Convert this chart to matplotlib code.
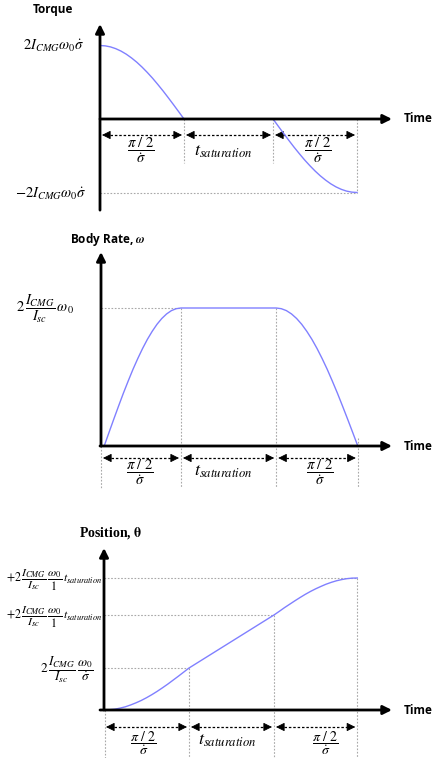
import numpy as np
import matplotlib
matplotlib.use("Agg")
import matplotlib.pyplot as plt

plt.rcParams["mathtext.fontset"] = "stix"

W, H = 448, 758

# Sample grid over one transition phase (fraction of the phase duration)
phase_frac = [i / 16 for i in range(17)]

# Torque profile (normalised to 2 I_CMG w0 sigma_dot)
torque_breaks = [0.0, 1.0, 2.06, 3.06]
torque_decay = [1.0, 0.995, 0.981, 0.957, 0.924, 0.882, 0.831, 0.773, 0.707,
                0.634, 0.556, 0.471, 0.383, 0.290, 0.195, 0.098, 0.0]
torque_coast = [0.0, 0.0]
torque_reverse = [0.0, -0.098, -0.195, -0.290, -0.383, -0.471, -0.556, -0.634,
                  -0.707, -0.773, -0.831, -0.882, -0.924, -0.957, -0.981, -0.995, -1.0]

# Body rate profile (normalised to 2 I_CMG/I_sc w0)
rate_breaks = [0.04, 1.0, 2.19, 3.21]
rate_rise = [0.0, 0.098, 0.195, 0.290, 0.383, 0.471, 0.556, 0.634, 0.707,
             0.773, 0.831, 0.882, 0.924, 0.957, 0.981, 0.995, 1.0]
rate_coast = [1.0, 1.0]
rate_fall = [1.0, 0.995, 0.981, 0.957, 0.924, 0.882, 0.831, 0.773, 0.707,
             0.634, 0.556, 0.471, 0.383, 0.290, 0.195, 0.098, 0.0]

# Position profile (normalised to final angle)
pos_breaks = [0.0, 1.0, 2.0, 2.98]
pos_accel = [0.0, 0.002, 0.006, 0.014, 0.024, 0.038, 0.054, 0.072, 0.093,
             0.116, 0.141, 0.168, 0.196, 0.226, 0.256, 0.287, 0.318]
pos_coast = [0.318, 0.72]
pos_decel = [0.72, 0.747, 0.775, 0.801, 0.827, 0.852, 0.876, 0.898, 0.918,
             0.936, 0.953, 0.967, 0.979, 0.988, 0.995, 0.999, 1.0]

CURVE = "#8080ff"
GUIDE = "#a8a8a8"

fig = plt.figure(figsize=(W / 100, H / 100), dpi=100)
fig.patch.set_facecolor("white")


def make_panel(ox, oy, sx, sy, top, bot):
    ax = fig.add_axes([0, 1 - bot / H, 1, (bot - top) / H])
    ax.set_xlim(-ox / sx, (W - ox) / sx)
    ax.set_ylim((oy - bot) / sy, (oy - top) / sy)
    ax.axis("off")
    return ax


def profile(breaks, first, coast, last):
    b = breaks
    t1 = [b[0] + f * (b[1] - b[0]) for f in phase_frac]
    t2 = [b[1], b[2]]
    t3 = [b[2] + f * (b[3] - b[2]) for f in phase_frac]
    return np.array(t1 + t2 + t3), np.array(list(first) + list(coast) + list(last))


def axes_arrows(ax, x0, xtip, ybot, ytip):
    kw = dict(arrowstyle="-|>", lw=2, color="black", mutation_scale=13,
              shrinkA=0, shrinkB=0)
    ax.annotate("", xy=(xtip, 0), xytext=(x0, 0), arrowprops=kw, zorder=5)
    ax.annotate("", xy=(0, ytip), xytext=(0, ybot), arrowprops=kw, zorder=5)


def guide(ax, xs, ys):
    ax.plot(xs, ys, color=GUIDE, lw=0.8, ls=(0, (1.5, 1.5)), zorder=1)


def dim_arrows(ax, breaks, y, gap, head):
    spans = [(breaks[0], breaks[1]), (breaks[1], breaks[2]), (breaks[2], breaks[3])]
    for a, b in spans:
        a2, b2 = a + gap, b - gap
        ax.plot([a2 + head, b2 - head], [y, y], color="black", lw=0.9,
                ls=(0, (2, 1.5)), zorder=3)
        hk = dict(arrowstyle="-|>", lw=0.6, color="black", mutation_scale=13,
                  shrinkA=0, shrinkB=0)
        ax.annotate("", xy=(a2, y), xytext=(a2 + head, y), arrowprops=hk)
        ax.annotate("", xy=(b2, y), xytext=(b2 - head, y), arrowprops=hk)


def ftext(x, y, s, **kw):
    fig.text(x / W, 1 - y / H, s, **kw)


SANS = "Open Sans"
FRAC = r"$\dfrac{\pi\ /\ 2}{\dot{\sigma}}$"
TSAT = r"$t_{saturation}$"
POS_HI = r"$+2\,\dfrac{I_{CMG}}{I_{sc}}\,\dfrac{\omega_0}{1}\,t_{saturation}$"

# ---------------- Torque ----------------
ax1 = make_panel(100, 119, 84, 73.5, 0, 215)
axes_arrows(ax1, 0, (392 - 100) / 84, -1.24, (119 - 24) / 73.5)
t, v = profile(torque_breaks, torque_decay, torque_coast, torque_reverse)
ax1.plot(t, v, color=CURVE, lw=1, zorder=4)
guide(ax1, [0, torque_breaks[3]], [-1, -1])
guide(ax1, [torque_breaks[3]] * 2, [0, -1])
guide(ax1, [torque_breaks[1]] * 2, [0, -0.6])
guide(ax1, [torque_breaks[2]] * 2, [0, -0.6])
dim_arrows(ax1, torque_breaks, -16 / 73.5, 2 / 84, 8 / 84)

ftext(53, 9, "Torque", ha="center", va="center", fontsize=8.5,
      fontweight="bold", family=SANS)
ftext(84, 46, r"$2I_{CMG}\omega_0\dot{\sigma}$", ha="right", va="center", fontsize=10.5)
ftext(86, 194, r"$-2I_{CMG}\omega_0\dot{\sigma}$", ha="right", va="center", fontsize=10.5)
ftext(404, 119, "Time", ha="left", va="center", fontsize=8.5, fontweight="bold", family=SANS)
ftext(141, 151, FRAC, ha="center", va="center", fontsize=10.5)
ftext(223, 151, TSAT, ha="center", va="center", fontsize=13)
ftext(318, 151, FRAC, ha="center", va="center", fontsize=10.5)

# ---------------- Body rate ----------------
ax2 = make_panel(101, 446, 80, 138, 230, 495)
axes_arrows(ax2, -1 / 80, (392 - 101) / 80, 0, (446 - 252) / 138)
t, v = profile(rate_breaks, rate_rise, rate_coast, rate_fall)
ax2.plot(t, v, color=CURVE, lw=1, zorder=4)
rb = [0.0, rate_breaks[1], rate_breaks[2], rate_breaks[3]]
low = (446 - 488) / 138
guide(ax2, [0, rb[1]], [1, 1])
guide(ax2, [rb[0]] * 2, [0, low])
guide(ax2, [rb[1]] * 2, [1, low])
guide(ax2, [rb[2]] * 2, [1, low])
guide(ax2, [rb[3]] * 2, [0.06, low])
dim_arrows(ax2, rb, (446 - 458) / 138, 2 / 80, 8 / 80)

ftext(108, 240, r"Body Rate, $\boldsymbol{\omega}$", ha="center", va="center",
      fontsize=8.5, fontweight="bold", family=SANS)
ftext(74, 309, r"$2\,\dfrac{I_{CMG}}{I_{sc}}\,\omega_0$", ha="right", va="center", fontsize=10.5)
ftext(404, 446, "Time", ha="left", va="center", fontsize=8.5, fontweight="bold", family=SANS)
ftext(140, 473, FRAC, ha="center", va="center", fontsize=10.5)
ftext(223, 471, TSAT, ha="center", va="center", fontsize=13)
ftext(320, 473, FRAC, ha="center", va="center", fontsize=10.5)

# ---------------- Position ----------------
ax3 = make_panel(104, 710, 85, 132, 500, 758)
axes_arrows(ax3, -4 / 85, (392 - 104) / 85, 0, (710 - 548) / 132)
t, v = profile(pos_breaks, pos_accel, pos_coast, pos_decel)
ax3.plot(t, v, color=CURVE, lw=1, zorder=4)
bottom = (710 - 758) / 132
guide(ax3, [0, pos_breaks[1]], [pos_accel[-1]] * 2)
guide(ax3, [0, pos_breaks[2]], [pos_coast[-1]] * 2)
guide(ax3, [0, pos_breaks[3]], [pos_decel[-1]] * 2)
guide(ax3, [pos_breaks[0] + 1 / 85] * 2, [0, bottom])
guide(ax3, [pos_breaks[1]] * 2, [pos_accel[-1], bottom])
guide(ax3, [pos_breaks[2]] * 2, [pos_coast[-1], bottom])
guide(ax3, [pos_breaks[3]] * 2, [pos_decel[-1], bottom])
dim_arrows(ax3, pos_breaks, (710 - 727) / 132, 2 / 85, 8 / 85)

ftext(111, 533, r"Position, $\mathbf{\theta}$", ha="center", va="center",
      fontsize=10, fontweight="bold", family="Liberation Serif")
ftext(102, 580, POS_HI, ha="right", va="center", fontsize=8.6)
ftext(102, 617, POS_HI, ha="right", va="center", fontsize=8.6)
ftext(93, 670, r"$2\,\dfrac{I_{CMG}}{I_{sc}}\,\dfrac{\omega_0}{\dot{\sigma}}$",
      ha="right", va="center", fontsize=9.5)
ftext(404, 710, "Time", ha="left", va="center", fontsize=8.5, fontweight="bold", family=SANS)
ftext(143, 743, FRAC, ha="center", va="center", fontsize=10)
ftext(227, 740, TSAT, ha="center", va="center", fontsize=13)
ftext(325, 743, FRAC, ha="center", va="center", fontsize=10)

fig.savefig("out.png", dpi=100, facecolor="white")
